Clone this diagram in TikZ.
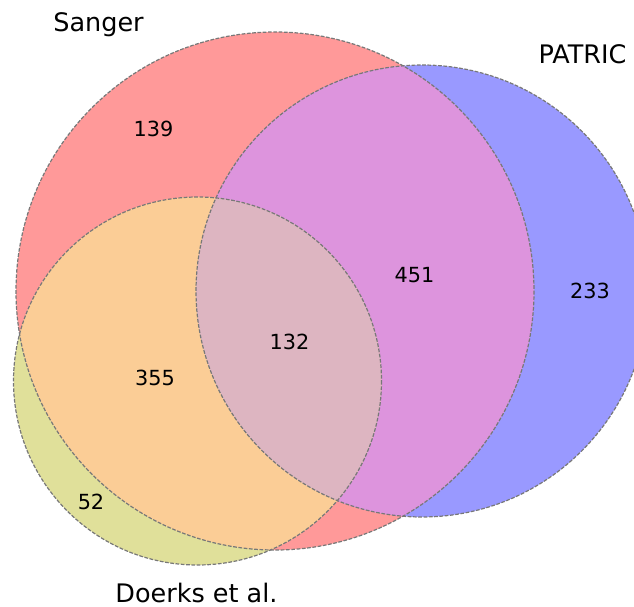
\documentclass[tikz,border=0pt]{standalone}
\usepackage{fontspec}
\setmainfont{DejaVu Sans}
\definecolor{sonly}{RGB}{255,153,153}
\definecolor{ponly}{RGB}{153,153,255}
\definecolor{donly}{RGB}{224,224,154}
\definecolor{sp}{RGB}{221,148,221}
\definecolor{sd}{RGB}{251,205,150}
\definecolor{dp}{RGB}{190,190,210}
\definecolor{spd}{RGB}{221,181,193}
\definecolor{edge}{RGB}{120,120,120}
\tikzset{
  outline/.style={draw=edge, line width=1.2pt, dash pattern=on 3.7pt off 1.6pt},
  num/.style={inner sep=0pt, anchor=base, font=\fontsize{20.8}{24}\selectfont},
  setlabel/.style={inner sep=0pt, anchor=base, font=\fontsize{25.5}{30}\selectfont}
}
\begin{document}
\begin{tikzpicture}[x=1pt,y=-1pt]
\clip (0,0) rectangle (634,607);
\fill[white] (0,0) rectangle (634,607);
\def\Scirc{(275,291) circle[radius=259]}
\def\Pcirc{(422,291) circle[radius=226]}
\def\Dcirc{(197.5,381) circle[radius=184]}
% single sets
\fill[sonly] \Scirc;
\fill[ponly] \Pcirc;
\fill[donly] \Dcirc;
% pairwise
\begin{scope}\clip \Dcirc; \fill[dp] \Pcirc; \end{scope}
\begin{scope}\clip \Scirc; \fill[sp] \Pcirc; \fill[sd] \Dcirc; \end{scope}
\begin{scope}\clip \Scirc; \clip \Dcirc; \fill[spd] \Pcirc; \end{scope}
% outlines
\draw[outline] \Scirc;
\draw[outline] \Pcirc;
\draw[outline] \Dcirc;
% labels
\node[setlabel] (lS) at (98.5,32) {Sanger};
\node[setlabel] (lP) at (582.5,64) {PATRIC};
\node[setlabel] (lD) at (196.5,602) {Doerks et al.};
\node[num] (n139) at (153.5,136) {139};
\node[num] (n451) at (414.5,282) {451};
\node[num] (n233) at (590,298) {233};
\node[num] (n132) at (289.5,349) {132};
\node[num] (n355) at (155,385) {355};
\node[num] (n52) at (91,509) {52};
\end{tikzpicture}
\end{document}
